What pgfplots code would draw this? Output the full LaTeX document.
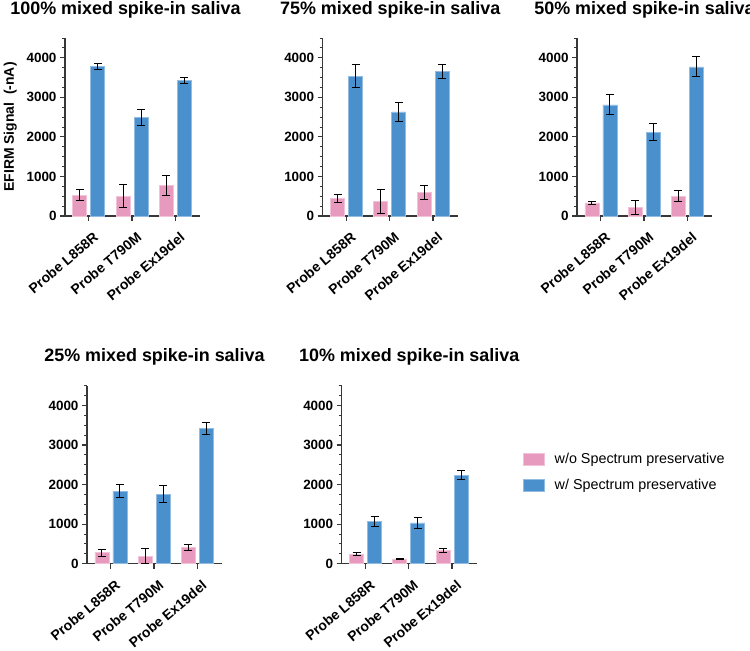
\documentclass[border=0pt]{standalone}
\usepackage{pgfplots}
\pgfplotsset{compat=1.18}
\usepackage{pgfplotstable}
\usepackage{fontspec}
\setmainfont{Liberation Sans}
\definecolor{pinkC}{RGB}{232,154,190}
\definecolor{blueC}{RGB}{74,144,205}
\definecolor{axC}{RGB}{55,55,55}

\pgfplotstableread{
x p pe b be
0 520 140 3780 80
1 500 290 2490 190
2 770 250 3420 80
}\tA
\pgfplotstableread{
x p pe b be
0 440 110 3530 290
1 370 300 2630 230
2 600 180 3650 170
}\tB
\pgfplotstableread{
x p pe b be
0 330 45 2810 250
1 210 170 2120 220
2 500 145 3770 250
}\tC
\pgfplotstableread{
x p pe b be
0 280 90 1830 160
1 190 190 1760 210
2 410 80 3420 150
}\tD
\pgfplotstableread{
x p pe b be
0 240 40 1070 120
1 120 20 1030 150
2 340 55 2240 120
}\tE

\pgfplotsset{
 panel/.style={
  scale only axis, width=135bp, height=178bp, anchor=south west,
  xmin=-0.55, xmax=2.57, ymin=0, ymax=4500,
  axis x line*=bottom, axis y line*=left,
  axis line style={axC, line width=1.2bp, -},
  xtick={0,1,2}, xticklabels={Probe L858R, Probe T790M, Probe Ex19del},
  ytick={0,1000,2000,3000,4000}, minor ytick={250,500,...,4500},
  tick align=outside, major tick length=5bp, minor tick length=3bp,
  every tick/.style={axC, line width=1.2bp},
  minor tick style={line width=0.9bp},
  tick label style={font=\fontsize{13.5}{15}\selectfont\bfseries, text=black},
  xticklabel style={font=\fontsize{14}{15}\selectfont\bfseries, xshift=4bp, yshift=-9bp, rotate=40, anchor=north east, inner sep=1bp},
  /pgf/number format/assume math mode=true,
  yticklabel style={/pgf/number format/1000 sep={}},
  title style={font=\fontsize{18}{20}\selectfont\bfseries, at={(0.5,1)}, anchor=base, yshift=18bp},
  ybar, bar width=14bp,
  clip=false,
 },
 pinkbar/.style={fill=pinkC, draw=pinkC!60!white, line width=0.6bp, bar shift=-9bp,
  error bars/.cd, y dir=both, y explicit,
  error bar style={black, line width=1bp},
  error mark options={rotate=90, mark size=4bp, line width=1bp, black}},
 bluebar/.style={fill=blueC, draw=blueC!60!white, line width=0.6bp, bar shift=9bp,
  error bars/.cd, y dir=both, y explicit,
  error bar style={black, line width=1bp},
  error mark options={rotate=90, mark size=4bp, line width=1bp, black}},
}

\begin{document}
\begin{tikzpicture}[x=1bp,y=1bp]
\useasboundingbox (0,0) rectangle (750,651);

\begin{axis}[panel, at={(65bp,435bp)}, title={100\% mixed spike-in saliva},
  title style={xshift=-7bp},
  ylabel={EFIRM Signal\ \ (-nA)}, ylabel shift=3bp,
  ylabel style={font=\fontsize{14}{16}\selectfont\bfseries}]
\addplot[pinkbar] table[x=x, y=p, y error=pe]{\tA};
\addplot[bluebar] table[x=x, y=b, y error=be]{\tA};
\end{axis}

\begin{axis}[panel, at={(322.7bp,435bp)}, title={75\% mixed spike-in saliva}]
\addplot[pinkbar] table[x=x, y=p, y error=pe]{\tB};
\addplot[bluebar] table[x=x, y=b, y error=be]{\tB};
\end{axis}

\begin{axis}[panel, at={(577bp,435bp)}, title={50\% mixed spike-in saliva}]
\addplot[pinkbar] table[x=x, y=p, y error=pe]{\tC};
\addplot[bluebar] table[x=x, y=b, y error=be]{\tC};
\end{axis}

\begin{axis}[panel, at={(87bp,87.3bp)}, title={25\% mixed spike-in saliva}]
\addplot[pinkbar] table[x=x, y=p, y error=pe]{\tD};
\addplot[bluebar] table[x=x, y=b, y error=be]{\tD};
\end{axis}

\begin{axis}[panel, at={(341.7bp,87.3bp)}, title={10\% mixed spike-in saliva},
  legend style={at={(axis description cs:1.32,0.645)}, anchor=north west, draw=none, fill=none,
    font=\fontsize{14.4}{16}\selectfont, row sep=10.5bp,
    /tikz/every odd column/.style={column sep=8bp}},
  legend cell align=left,
  legend image code/.code={\draw[#1, line width=0.6bp] (0bp,-5.8bp) rectangle (21bp,5.8bp);}]
\addplot[pinkbar] table[x=x, y=p, y error=pe]{\tE};
\addlegendentry{w/o Spectrum preservative}
\addplot[bluebar] table[x=x, y=b, y error=be]{\tE};
\addlegendentry{w/ Spectrum preservative}
\end{axis}
\end{tikzpicture}
\end{document}
